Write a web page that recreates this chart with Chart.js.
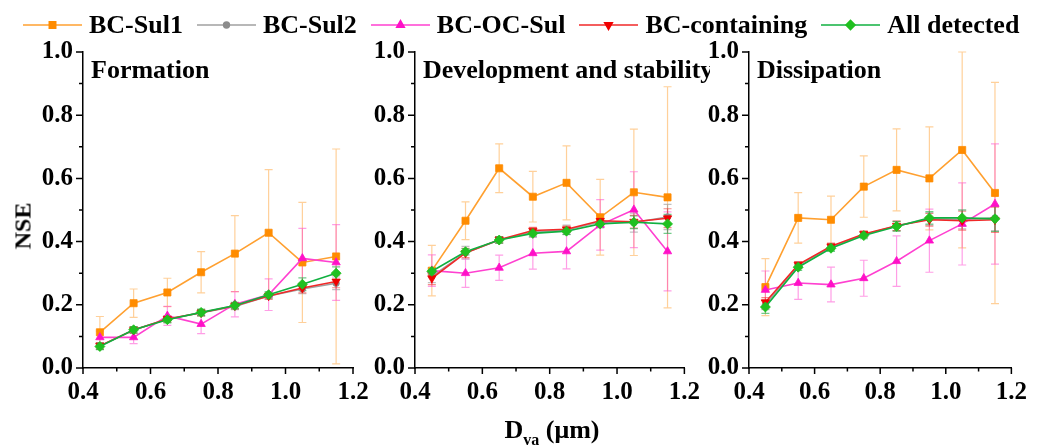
<!DOCTYPE html>
<html lang="en">
<head>
<meta charset="UTF-8">
<title>NSE vs Dva</title>
<script src="https://cdn.jsdelivr.net/npm/chart.js"></script>
<style>
  body { margin: 0; background: #fff; font-family: 'Liberation Serif', serif; font-weight: bold; }
  #wrap { position: relative; width: 1037px; height: 448px; overflow: hidden; }
  .panel { position: absolute; top: 0; height: 448px; }
  #legend { position: absolute; top: 10px; left: 23px; display: flex; align-items: center; font-size: 26px; color: #000; z-index: 2; white-space: nowrap; }
  #legend .item { display: flex; align-items: center; margin-right: 14px; }
  #legend canvas { margin-right: 7px; }
  #ylab { position: absolute; left: 23px; top: 226px; transform: translate(-50%, -50%) rotate(-90deg); font-size: 24px; }
  #xlab { position: absolute; left: 552px; top: 432px; transform: translate(-50%, -50%); font-size: 26px; white-space: nowrap; }
  #xlab sub { font-size: 16px; }
</style>
</head>
<body>
<div id="wrap">
  <div id="legend"></div>
  <div class="panel" style="left:0;width:380px"><canvas id="c1"></canvas></div>
  <div class="panel" style="left:350px;width:360px"><canvas id="c2"></canvas></div>
  <div class="panel" style="left:684px;width:353px"><canvas id="c3"></canvas></div>
  <div id="ylab">NSE</div>
  <div id="xlab">D<sub>va</sub> (μm)</div>
</div>
<script>
const dva = [0.45, 0.55, 0.65, 0.75, 0.85, 0.95, 1.05, 1.15];
const seriesNames = ['BC-Sul1', 'BC-Sul2', 'BC-OC-Sul', 'BC-containing', 'All detected'];
const panelTitles = ['Formation', 'Development and stability', 'Dissipation'];
const xTicks = [0.4, 0.6, 0.8, 1.0, 1.2];
const yTicks = [0.0, 0.2, 0.4, 0.6, 0.8, 1.0];

// Formation
const formSul1 = [0.113, 0.205, 0.239, 0.303, 0.362, 0.428, 0.334, 0.353];
const formSul2 = [0.070, 0.120, 0.155, 0.175, 0.195, 0.228, 0.250, 0.268];
const formOCSul = [0.097, 0.097, 0.165, 0.139, 0.202, 0.232, 0.347, 0.334];
const formBC = [0.070, 0.120, 0.155, 0.175, 0.197, 0.228, 0.253, 0.274];
const formAll = [0.068, 0.121, 0.153, 0.176, 0.198, 0.232, 0.265, 0.300];
const formSul1Err = [0.05, 0.045, 0.045, 0.065, 0.12, 0.20, 0.19, 0.34];
const formSul2Err = [0.01, 0.01, 0.01, 0.01, 0.01, 0.01, 0.015, 0.02];
const formOCSulErr = [0.02, 0.02, 0.03, 0.03, 0.04, 0.05, 0.095, 0.12];
const formBCErr = [0.01, 0.01, 0.01, 0.01, 0.01, 0.01, 0.015, 0.02];
const formAllErr = [0.01, 0.01, 0.01, 0.01, 0.01, 0.01, 0.02, 0.02];

// Development and stability
const devSul1 = [0.308, 0.466, 0.632, 0.542, 0.586, 0.477, 0.556, 0.540];
const devSul2 = [0.290, 0.365, 0.405, 0.430, 0.437, 0.463, 0.460, 0.478];
const devOCSul = [0.308, 0.300, 0.317, 0.363, 0.369, 0.453, 0.501, 0.369];
const devBC = [0.284, 0.364, 0.406, 0.435, 0.439, 0.466, 0.463, 0.474];
const devAll = [0.306, 0.368, 0.405, 0.426, 0.433, 0.456, 0.461, 0.456];
const devSul1Err = [0.08, 0.06, 0.077, 0.08, 0.117, 0.12, 0.20, 0.35];
const devSul2Err = [0.02, 0.02, 0.01, 0.01, 0.015, 0.02, 0.03, 0.04];
const devOCSulErr = [0.05, 0.045, 0.04, 0.05, 0.055, 0.08, 0.12, 0.125];
const devBCErr = [0.02, 0.015, 0.01, 0.01, 0.01, 0.015, 0.02, 0.03];
const devAllErr = [0.01, 0.01, 0.01, 0.01, 0.01, 0.01, 0.02, 0.03];

// Dissipation
const disSul1 = [0.256, 0.475, 0.469, 0.574, 0.627, 0.600, 0.690, 0.554];
const disSul2 = [0.200, 0.325, 0.383, 0.422, 0.450, 0.472, 0.470, 0.475];
const disOCSul = [0.247, 0.269, 0.264, 0.284, 0.338, 0.403, 0.456, 0.519];
const disBC = [0.208, 0.327, 0.385, 0.424, 0.450, 0.469, 0.466, 0.469];
const disAll = [0.193, 0.319, 0.379, 0.419, 0.448, 0.475, 0.475, 0.472];
const disSul1Err = [0.09, 0.08, 0.075, 0.097, 0.13, 0.163, 0.31, 0.35];
const disSul2Err = [0.015, 0.01, 0.01, 0.01, 0.015, 0.02, 0.03, 0.04];
const disOCSulErr = [0.06, 0.052, 0.055, 0.057, 0.08, 0.10, 0.13, 0.19];
const disBCErr = [0.015, 0.01, 0.01, 0.01, 0.015, 0.02, 0.03, 0.04];
const disAllErr = [0.02, 0.01, 0.01, 0.01, 0.015, 0.02, 0.025, 0.04];

const panelValues = [
  [formSul1, formSul2, formOCSul, formBC, formAll],
  [devSul1, devSul2, devOCSul, devBC, devAll],
  [disSul1, disSul2, disOCSul, disBC, disAll]
];
const panelErrors = [
  [formSul1Err, formSul2Err, formOCSulErr, formBCErr, formAllErr],
  [devSul1Err, devSul2Err, devOCSulErr, devBCErr, devAllErr],
  [disSul1Err, disSul2Err, disOCSulErr, disBCErr, disAllErr]
];

// styles per series
const styles = [
  { line: '#FFA030', fill: '#FF8C00', err: 'rgba(255,150,30,0.45)', shape: 'rect', radius: 5, rot: 0 },
  { line: '#A0A0A0', fill: '#8C8C8C', err: 'rgba(140,140,140,0.55)', shape: 'circle', radius: 3.2, rot: 0 },
  { line: '#FF40D0', fill: '#FF10C8', err: 'rgba(255,40,200,0.45)', shape: 'triangle', radius: 4.8, rot: 0 },
  { line: '#F02828', fill: '#F00000', err: 'rgba(240,40,40,0.55)', shape: 'triangle', radius: 4.8, rot: 180 },
  { line: '#10B040', fill: '#20C020', err: 'rgba(20,170,60,0.6)', shape: 'rectRot', radius: 5, rot: 0 }
];

Chart.defaults.font.family = "'Liberation Serif', serif";
Chart.defaults.font.weight = 'bold';
Chart.defaults.font.size = 25;
Chart.defaults.color = '#000';

// error bars drawn under markers
const errorBars = {
  id: 'errorBars',
  beforeDatasetsDraw(chart) {
    const ctx = chart.ctx;
    const ys = chart.scales.y;
    const errs = chart.options.plugins.errorBars.errs;
    chart.data.datasets.forEach((ds, i) => {
      const meta = chart.getDatasetMeta(i);
      ctx.save();
      ctx.strokeStyle = styles[i].err;
      ctx.lineWidth = 1.2;
      meta.data.forEach((pt, j) => {
        const v = ds.data[j].y, e = errs[i][j];
        const top = ys.getPixelForValue(v + e);
        const bot = ys.getPixelForValue(v - e);
        ctx.beginPath();
        ctx.moveTo(pt.x, top); ctx.lineTo(pt.x, bot);
        ctx.moveTo(pt.x - 4, top); ctx.lineTo(pt.x + 4, top);
        ctx.moveTo(pt.x - 4, bot); ctx.lineTo(pt.x + 4, bot);
        ctx.stroke();
      });
      ctx.restore();
    });
  }
};

// outward major/minor ticks + panel title
const axisDecor = {
  id: 'axisDecor',
  afterDraw(chart) {
    const ctx = chart.ctx;
    const xs = chart.scales.x, ys = chart.scales.y;
    const a = chart.chartArea;
    ctx.save();
    ctx.strokeStyle = '#000';
    ctx.lineWidth = 1.5;
    ctx.beginPath();
    for (let i = 4; i <= 12; i++) {
      const px = xs.getPixelForValue(i / 10);
      const len = i % 2 === 0 ? 6 : 3.5;
      ctx.moveTo(px, a.bottom); ctx.lineTo(px, a.bottom + len);
    }
    for (let i = 0; i <= 10; i++) {
      const py = ys.getPixelForValue(i / 10);
      const len = i % 2 === 0 ? 7 : 4;
      ctx.moveTo(a.left, py); ctx.lineTo(a.left - len, py);
    }
    ctx.stroke();
    ctx.fillStyle = '#000';
    ctx.font = "bold 26px 'Liberation Serif', serif";
    ctx.textBaseline = 'middle';
    ctx.textAlign = 'left';
    ctx.fillText(chart.options.plugins.axisDecor.title, a.left + 8, a.top + 19);
    ctx.restore();
  }
};

function makeChart(id, p, yWidth, padRight) {
  const datasets = seriesNames.map((name, i) => ({
    label: name,
    data: dva.map((x, j) => ({ x: x, y: panelValues[p][i][j] })),
    borderColor: styles[i].line,
    backgroundColor: styles[i].fill,
    borderWidth: 1.6,
    pointStyle: styles[i].shape,
    pointRotation: styles[i].rot,
    pointRadius: styles[i].radius,
    pointBorderWidth: 0.8,
    pointBorderColor: styles[i].fill,
    pointBackgroundColor: styles[i].fill,
    tension: 0,
    order: 4 - i
  }));
  return new Chart(document.getElementById(id), {
    type: 'line',
    data: { datasets },
    options: {
      responsive: true,
      maintainAspectRatio: false,
      animation: false,
      layout: { padding: { top: 52, right: padRight, left: 0, bottom: 0 } },
      plugins: {
        legend: { display: false },
        tooltip: { enabled: false },
        errorBars: { errs: panelErrors[p] },
        axisDecor: { title: panelTitles[p] }
      },
      scales: {
        x: {
          type: 'linear', min: 0.4, max: 1.2,
          afterBuildTicks: s => { s.ticks = xTicks.map(v => ({ value: v })); },
          afterFit: s => { s.height = 80; },
          grid: { display: false, drawTicks: false },
          border: { display: true, color: '#000', width: 1.5 },
          ticks: { padding: 10, maxRotation: 0, autoSkip: false, callback: v => Number(v).toFixed(1) }
        },
        y: {
          min: 0, max: 1.0,
          afterBuildTicks: s => { s.ticks = yTicks.map(v => ({ value: v })); },
          afterFit: s => { s.width = yWidth; },
          grid: { display: false, drawTicks: false },
          border: { display: true, color: '#000', width: 1.5 },
          ticks: { padding: 10, autoSkip: false, callback: v => Number(v).toFixed(1) }
        }
      }
    },
    plugins: [errorBars, axisDecor]
  });
}

makeChart('c1', 0, 83, 27);
makeChart('c2', 1, 65, 25);
makeChart('c3', 2, 65, 18);

// legend: line + marker icon and label
const legend = document.getElementById('legend');
seriesNames.forEach((name, i) => {
  const item = document.createElement('div');
  item.className = 'item';
  const c = document.createElement('canvas');
  c.width = 59; c.height = 20;
  const g = c.getContext('2d');
  g.strokeStyle = styles[i].line;
  g.lineWidth = 1.6;
  g.beginPath(); g.moveTo(0, 10); g.lineTo(59, 10); g.stroke();
  g.fillStyle = styles[i].fill;
  g.strokeStyle = styles[i].fill;
  Chart.helpers.drawPoint(g, { pointStyle: styles[i].shape, rotation: styles[i].rot, radius: styles[i].radius * 0.9, borderWidth: 0.8 }, 29.5, 10);
  const t = document.createElement('span');
  t.textContent = name;
  item.appendChild(c);
  item.appendChild(t);
  legend.appendChild(item);
});
</script>
</body>
</html>
